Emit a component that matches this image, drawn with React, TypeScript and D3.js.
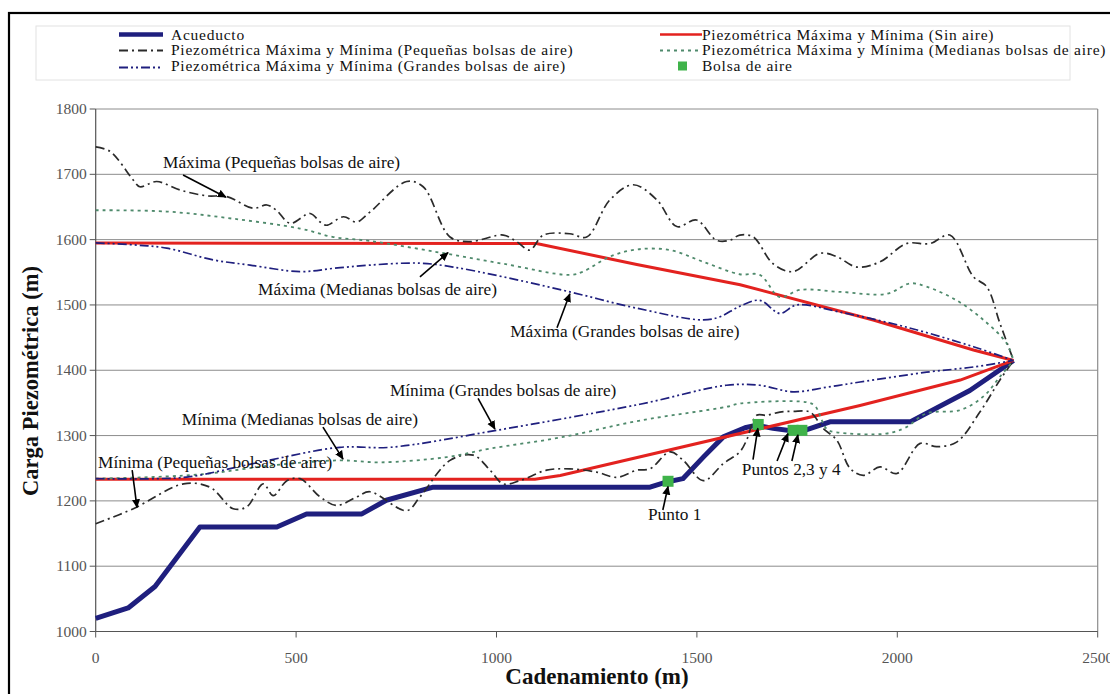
import React from 'react';
import * as d3 from 'd3';

type Pt = [number, number];

const xTicks = [0, 500, 1000, 1500, 2000, 2500];
const yTicks = [1000, 1100, 1200, 1300, 1400, 1500, 1600, 1700, 1800];

// Perfil del acueducto (cadenamiento m, cota m)
const acueducto: Pt[] = [
  [0, 1020], [81, 1036], [148, 1069], [260, 1160], [452, 1160], [526, 1180], [664, 1180],
  [725, 1201], [842, 1221], [1383, 1221], [1425, 1229], [1465, 1234], [1516, 1267],
  [1566, 1298], [1620, 1312], [1649, 1316], [1690, 1311], [1740, 1307], [1765, 1307],
  [1832, 1321], [2032, 1321], [2181, 1369], [2290, 1415],
];

// Envolventes sin aire
const sinAireMax: Pt[] = [[0, 1595], [1100, 1594], [1350, 1562], [1608, 1531], [1940, 1477], [2190, 1431], [2290, 1415]];
const sinAireMin: Pt[] = [[0, 1233], [1096, 1233], [1159, 1239], [1907, 1346], [2157, 1385], [2290, 1415]];

// Pequeñas bolsas de aire
const pequenasMax: Pt[] = [
  [0, 1742], [36, 1735], [94, 1691], [110, 1681], [152, 1689], [210, 1676], [277, 1667], [327, 1666],
  [393, 1648], [427, 1653], [451, 1645], [485, 1625], [535, 1640], [560, 1627], [576, 1622], [618, 1635],
  [651, 1627], [684, 1642], [776, 1689], [817, 1681], [884, 1604], [934, 1597], [1017, 1607], [1050, 1597],
  [1083, 1584], [1117, 1607], [1183, 1609], [1225, 1604], [1283, 1661], [1341, 1684], [1400, 1661],
  [1450, 1620], [1499, 1630], [1549, 1599], [1582, 1599], [1607, 1607], [1641, 1604], [1690, 1563],
  [1740, 1551], [1807, 1579], [1849, 1574], [1899, 1558], [1957, 1566], [2023, 1594], [2082, 1594],
  [2131, 1607], [2190, 1543], [2223, 1528], [2256, 1472], [2290, 1415],
];
const pequenasMin: Pt[] = [
  [0, 1165], [94, 1188], [219, 1226], [285, 1221], [343, 1188], [377, 1191], [418, 1226], [443, 1208],
  [477, 1231], [510, 1234], [560, 1206], [601, 1193], [651, 1206], [684, 1214], [776, 1185], [809, 1206],
  [884, 1262], [942, 1270], [984, 1247], [1017, 1226], [1059, 1231], [1125, 1247], [1183, 1249],
  [1250, 1244], [1300, 1236], [1350, 1247], [1383, 1249], [1433, 1275], [1466, 1262], [1516, 1231],
  [1566, 1257], [1607, 1275], [1624, 1293], [1649, 1331], [1674, 1331], [1707, 1336], [1740, 1337],
  [1782, 1336], [1815, 1311], [1849, 1293], [1882, 1250], [1915, 1239], [1957, 1252], [1999, 1242],
  [2057, 1288], [2098, 1283], [2148, 1290], [2206, 1336], [2256, 1385], [2290, 1415],
];

// Medianas bolsas de aire
const medianasMax: Pt[] = [
  [0, 1645], [177, 1643], [343, 1632], [510, 1617], [593, 1604], [684, 1598], [851, 1581], [1017, 1563],
  [1183, 1546], [1216, 1551], [1283, 1574], [1350, 1585], [1433, 1584], [1516, 1566], [1607, 1547],
  [1657, 1546], [1707, 1512], [1757, 1523], [1857, 1520], [1974, 1517], [2032, 1533], [2073, 1528],
  [2148, 1507], [2215, 1477], [2273, 1441], [2290, 1415],
];
const medianasMin: Pt[] = [
  [0, 1234], [250, 1240], [450, 1255], [609, 1262], [709, 1259], [876, 1267], [984, 1280], [1159, 1297],
  [1358, 1323], [1574, 1344], [1607, 1349], [1774, 1351], [1795, 1345], [1824, 1310], [1849, 1305],
  [1972, 1303], [2020, 1312], [2073, 1334], [2157, 1339], [2215, 1360], [2256, 1390], [2290, 1415],
];

// Grandes bolsas de aire
const grandesMax: Pt[] = [
  [0, 1595], [94, 1592], [177, 1587], [293, 1569], [385, 1561], [510, 1551], [593, 1556], [684, 1561],
  [809, 1564], [892, 1558], [1017, 1543], [1183, 1520], [1350, 1495], [1516, 1477], [1558, 1482],
  [1607, 1498], [1657, 1507], [1707, 1487], [1749, 1500], [1857, 1489], [2023, 1466], [2190, 1436], [2290, 1415],
];
const grandesMin: Pt[] = [
  [0, 1234], [150, 1234], [235, 1237], [400, 1258], [609, 1282], [734, 1282], [1000, 1308], [1358, 1348],
  [1574, 1377], [1657, 1377], [1740, 1367], [1824, 1374], [1907, 1382], [2073, 1397], [2190, 1405], [2290, 1415],
];

// Ubicación de bolsas de aire
const bolsas: Pt[] = [[1428, 1230], [1653, 1317], [1740, 1308], [1762, 1308]];

// Anotaciones: texto en (x, y) y flechas [desde, hasta] en unidades del gráfico
const anotaciones: { text: string; at: Pt; arrows: [Pt, Pt][] }[] = [
  { text: 'Máxima (Pequeñas bolsas de aire)', at: [168, 1710], arrows: [[[218, 1699], [325, 1665]]] },
  { text: 'Máxima (Medianas bolsas de aire)', at: [405, 1515], arrows: [[[809, 1543], [879, 1580]]] },
  { text: 'Máxima (Grandes bolsas de aire)', at: [1034, 1451], arrows: [[[1151, 1465], [1183, 1517]]] },
  { text: 'Mínima (Grandes bolsas de aire)', at: [734, 1360], arrows: [[[954, 1357], [996, 1310]]] },
  { text: 'Mínima (Medianas bolsas de aire)', at: [215, 1316], arrows: [[[567, 1313], [617, 1264]]] },
  { text: 'Mínima (Pequeñas bolsas de aire)', at: [6, 1250], arrows: [[[91, 1247], [103, 1190]]] },
  { text: 'Punto 1', at: [1378, 1171], arrows: [[[1415, 1186], [1428, 1222]]] },
  {
    text: 'Puntos 2,3 y 4', at: [1612, 1240],
    arrows: [[[1640, 1263], [1652, 1311]], [[1700, 1261], [1727, 1303]], [[1737, 1261], [1752, 1301]]],
  },
];

const FONT = "'Liberation Serif', 'Times New Roman', Times, serif";
const NAVY = '#1f1f7e';
const RED = '#e3221f';
const DARK = '#2a2a2a';
const DOTC = '#4f8a6c';
const GREEN = '#3fb34a';

const DASH_PEQ = '9,4,2,4';
const DASH_GRA = '9,3,2,3,2,3';
const DASH_MED = '3,4';

export default function App() {
  const W = 1110;
  const H = 694;
  const x = d3.scaleLinear().domain([0, 2500]).range([95.7, 1097.7]);
  const y = d3.scaleLinear().domain([1000, 1800]).range([631.5, 109]);

  const smooth = d3.line<Pt>().x(d => x(d[0])).y(d => y(d[1])).curve(d3.curveCatmullRom.alpha(0.5));
  const straight = d3.line<Pt>().x(d => x(d[0])).y(d => y(d[1]));

  const legendRows = [
    { col: 0, row: 0, label: 'Acueducto', kind: 'acu' },
    { col: 0, row: 1, label: 'Piezométrica Máxima y Mínima (Pequeñas bolsas de aire)', kind: 'peq' },
    { col: 0, row: 2, label: 'Piezométrica Máxima y Mínima (Grandes bolsas de aire)', kind: 'gra' },
    { col: 1, row: 0, label: 'Piezométrica Máxima y Mínima (Sin aire)', kind: 'sin' },
    { col: 1, row: 1, label: 'Piezométrica Máxima y Mínima (Medianas bolsas de aire)', kind: 'med' },
    { col: 1, row: 2, label: 'Bolsa de aire', kind: 'bol' },
  ];
  const colX = [119, 660];
  const rowY = [34.5, 49.5, 65.5];

  return (
    <svg width={W} height={H} style={{ position: 'absolute', left: 0, top: 0, background: '#fff', fontFamily: FONT }}>
      <defs>
        <marker id="flecha" viewBox="0 0 10 10" refX="9" refY="5" markerWidth="9" markerHeight="9" markerUnits="userSpaceOnUse" orient="auto">
          <path d="M0,0.5 L10,5 L0,9.5 Z" fill="#000" />
        </marker>
      </defs>
      <rect x={0} y={0} width={W} height={H} fill="#fff" />
      {/* marco exterior */}
      <rect x={9} y={13} width={W + 20} height={H + 20} fill="none" stroke="#000" strokeWidth={2.2} />

      {/* leyenda */}
      <rect x={36} y={26} width={1034} height={54} fill="none" stroke="#e2e2e2" strokeWidth={1} />
      {legendRows.map((r, i) => {
        const lx = colX[r.col];
        const ly = rowY[r.row];
        const tx = r.col === 0 ? 171 : 702;
        let sym: React.ReactNode = null;
        if (r.kind === 'acu') sym = <line x1={lx} x2={lx + 44} y1={ly} y2={ly} stroke={NAVY} strokeWidth={4.5} />;
        if (r.kind === 'peq') sym = <line x1={lx} x2={lx + 44} y1={ly + 1} y2={ly + 1} stroke={DARK} strokeWidth={1.8} strokeDasharray={DASH_PEQ} />;
        if (r.kind === 'gra') sym = <line x1={lx} x2={lx + 44} y1={ly + 2} y2={ly + 2} stroke={NAVY} strokeWidth={1.8} strokeDasharray={DASH_GRA} />;
        if (r.kind === 'sin') sym = <line x1={lx} x2={lx + 42} y1={ly} y2={ly} stroke={RED} strokeWidth={2.5} />;
        if (r.kind === 'med') sym = <line x1={lx} x2={lx + 42} y1={ly + 1} y2={ly + 1} stroke={DOTC} strokeWidth={1.8} strokeDasharray={DASH_MED} />;
        if (r.kind === 'bol') sym = <rect x={lx + 18} y={ly - 4} width={9} height={9} fill={GREEN} />;
        return (
          <g key={i}>
            {sym}
            <text x={tx} y={ly + 5} fontSize={15.5} letterSpacing={0.75} fill="#111">{r.label}</text>
          </g>
        );
      })}

      {/* rejilla */}
      {yTicks.map(t => (
        <line key={'g' + t} x1={x(0)} x2={x(2500)} y1={y(t)} y2={y(t)} stroke="#8c8c8c" strokeWidth={1} />
      ))}
      <line x1={x(2500)} x2={x(2500)} y1={y(1800)} y2={y(1000)} stroke="#8c8c8c" strokeWidth={1.2} />

      {/* ejes */}
      <line x1={x(0)} x2={x(0)} y1={y(1800)} y2={y(1000)} stroke="#555" strokeWidth={1.2} />
      <line x1={x(0)} x2={x(2500)} y1={y(1000)} y2={y(1000)} stroke="#555" strokeWidth={1.2} />
      {yTicks.map(t => (
        <g key={'y' + t}>
          <line x1={x(0) - 6} x2={x(0)} y1={y(t)} y2={y(t)} stroke="#555" strokeWidth={1} />
          <text x={x(0) - 9} y={y(t) + 5} fontSize={15.5} textAnchor="end" fill="#555">{t}</text>
        </g>
      ))}
      {xTicks.map(t => (
        <g key={'x' + t}>
          <line x1={x(t)} x2={x(t)} y1={y(1000)} y2={y(1000) + 6} stroke="#555" strokeWidth={1} />
          <text x={x(t)} y={y(1000) + 31} fontSize={15.5} textAnchor="middle" fill="#555">{t}</text>
        </g>
      ))}
      <text x={597} y={684} fontSize={23} fontWeight="bold" textAnchor="middle" fill="#111">Cadenamiento (m)</text>
      <text transform={`translate(38,381) rotate(-90)`} fontSize={22.5} fontWeight="bold" textAnchor="middle" fill="#111">Carga Piezométrica (m)</text>

      {/* series */}
      <path d={straight(acueducto) || ''} fill="none" stroke={NAVY} strokeWidth={5} strokeLinejoin="round" />
      <path d={straight(sinAireMax) || ''} fill="none" stroke={RED} strokeWidth={3} />
      <path d={straight(sinAireMin) || ''} fill="none" stroke={RED} strokeWidth={3} />

      <path d={smooth(pequenasMax) || ''} fill="none" stroke={DARK} strokeWidth={1.7} strokeDasharray={DASH_PEQ} />
      <path d={smooth(pequenasMin) || ''} fill="none" stroke={DARK} strokeWidth={1.7} strokeDasharray={DASH_PEQ} />
      <path d={smooth(medianasMax) || ''} fill="none" stroke={DOTC} strokeWidth={1.8} strokeDasharray={DASH_MED} />
      <path d={smooth(medianasMin) || ''} fill="none" stroke={DOTC} strokeWidth={1.8} strokeDasharray={DASH_MED} />
      <path d={smooth(grandesMax) || ''} fill="none" stroke={NAVY} strokeWidth={1.7} strokeDasharray={DASH_GRA} />
      <path d={smooth(grandesMin) || ''} fill="none" stroke={NAVY} strokeWidth={1.7} strokeDasharray={DASH_GRA} />

      {bolsas.map((b, i) => (
        <rect key={'b' + i} x={x(b[0]) - 5.5} y={y(b[1]) - 5.5} width={11} height={11} fill={GREEN} />
      ))}

      {/* anotaciones */}
      {anotaciones.map((a, i) => (
        <g key={'a' + i}>
          <text x={x(a.at[0])} y={y(a.at[1])} fontSize={17.3} fill="#111">{a.text}</text>
          {a.arrows.map((ar, j) => (
            <line key={j} x1={x(ar[0][0])} y1={y(ar[0][1])} x2={x(ar[1][0])} y2={y(ar[1][1])}
              stroke="#000" strokeWidth={1.6} markerEnd="url(#flecha)" />
          ))}
        </g>
      ))}
    </svg>
  );
}
